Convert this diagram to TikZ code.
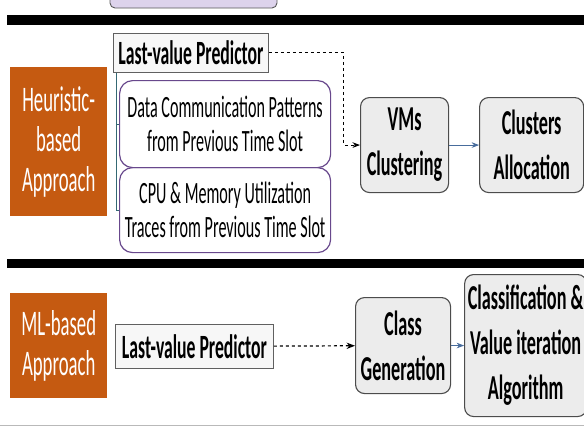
\documentclass[tikz,border=0pt]{standalone}
\usepackage{fontspec}
\setmainfont{Carlito}[FakeStretch=0.52]
\usepackage{tikz}
\usetikzlibrary{arrows.meta, positioning}
\definecolor{orangebox}{RGB}{197,90,17}
\definecolor{lilac}{RGB}{221,211,236}
\definecolor{purpleline}{RGB}{104,72,140}
\definecolor{stagefill}{RGB}{236,236,236}
\definecolor{treeline}{RGB}{52,104,116}
\definecolor{flowblue}{RGB}{72,108,156}

\begin{document}
\begin{tikzpicture}[x=1pt, y=-1pt, node distance=3mm,
  approach/.style={fill=orangebox, text=white, align=center, inner sep=0pt,
    font=\fontsize{36}{40}\selectfont, anchor=north west},
  pred/.style={draw=gray!75!black, fill=gray!6, line width=0.9pt, inner sep=0pt,
    font=\bfseries\fontsize{34}{36}\selectfont, anchor=north west},
  trace/.style={draw=purpleline, line width=1.2pt, rounded corners=13pt, align=center,
    inner sep=0pt, font=\fontsize{31}{34}\selectfont, anchor=north west},
  stage/.style={draw=gray!60!black, fill=stagefill, line width=1.1pt, rounded corners=9pt,
    align=center, inner sep=0pt, font=\bfseries\fontsize{35}{45}\selectfont},
  >={Stealth}]
  \clip (0,0) rectangle (584,426);
  % previous section and separators
  \filldraw[draw=gray!70!black, fill=lilac, line width=0.9pt, rounded corners=5pt]
    (110,-10) rectangle (277,8);
  \fill[black] (7,15) rectangle (584,25);
  \fill[black] (7,259) rectangle (584,268);
  \draw[gray!55, line width=0.8pt] (0,425) -- (584,425);

  % heuristic-based part
  \node[approach, minimum width=97pt, minimum height=149pt] (heur) at (10,67) {Heuristic-\\based\\Approach};
  \node[pred, minimum width=155pt, minimum height=39pt] (lvpa) at (113,33) {Last-value Predictor};
  \node[trace, minimum width=211pt, minimum height=87pt] (comm) at (119,80)
    {Data Communication Patterns\\from Previous Time Slot};
  \node[trace, minimum width=211pt, minimum height=85pt] (cpu) at (119,167)
    {CPU \& Memory Utilization\\Traces from Previous Time Slot};
  \node[stage, minimum width=88pt, minimum height=95pt, anchor=north west] (vms) at (360,97) {VMs\\Clustering};
  \node[stage, right=30pt of vms, minimum width=104pt, minimum height=95pt] (alloc) {Clusters\\Allocation};
  \draw[treeline, line width=0.9pt] ([xshift=3pt]lvpa.south west) |- (comm.west);
  \draw[treeline, line width=0.9pt] ([xshift=3pt]lvpa.south west) |- (cpu.west);
  \draw[->, dashed, line width=1pt] (lvpa.east) -- ++(75,0) |- (vms.west);

  % ML-based part
  \node[approach, minimum width=97pt, minimum height=105pt] (ml) at (10,293) {ML-based\\Approach};
  \node[pred, minimum width=158pt, minimum height=44pt] (lvpb) at (115,324) {Last-value Predictor};
  \node[stage, minimum width=95pt, minimum height=96pt, anchor=north west] (cls) at (355,297) {Class\\Generation};
  \node[stage, right=13pt of cls, minimum width=122pt, minimum height=142pt] (algo)
    {Classification \&\\Value iteration\\Algorithm};
  \draw[->, dashed, line width=1.2pt] (lvpb) -- (cls);

  \foreach \a/\b in {vms/alloc, cls/algo} \draw[->, flowblue, line width=1pt] (\a) -- (\b);
\end{tikzpicture}
\end{document}
